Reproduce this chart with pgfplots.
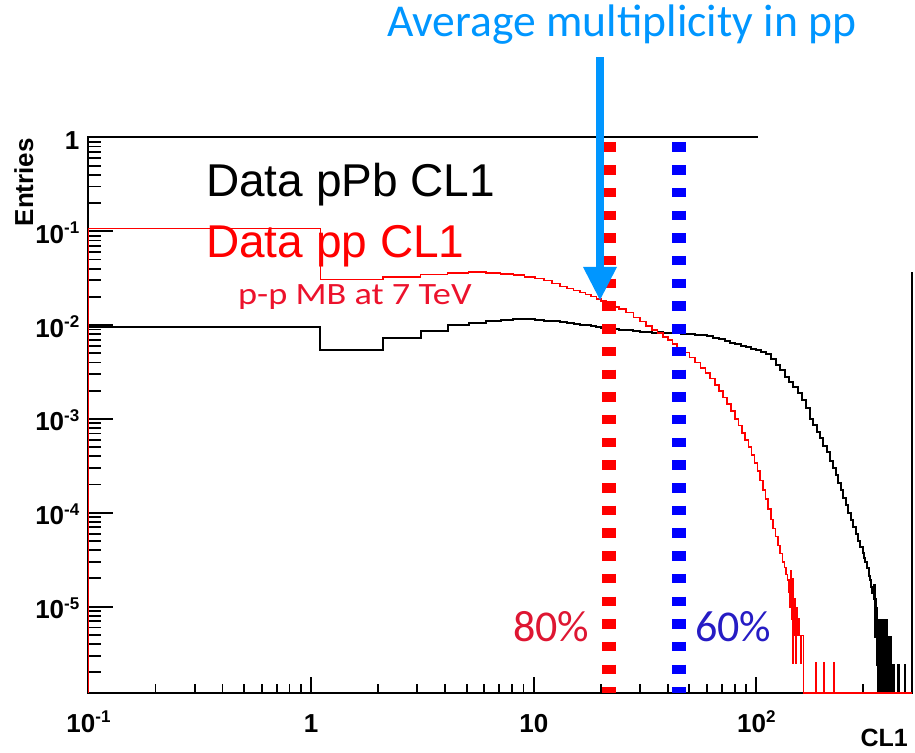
\documentclass[border=0pt]{standalone}
\usepackage{pgfplots}
\pgfplotsset{compat=1.18}
\usepackage{graphicx}
\usepackage{fontspec}
\setmainfont{Liberation Sans}
\newfontfamily\calib{Carlito}
\definecolor{arrowblue}{RGB}{0,150,255}
\definecolor{pctred}{RGB}{222,22,50}
\definecolor{pctblue}{RGB}{38,28,196}
\definecolor{ppred}{RGB}{236,18,44}
\newcommand{\tp}[1]{10\raisebox{9.5pt}{\fontsize{17}{17}\selectfont\bfseries #1}}

\pgfplotstableread{
x y
0.1 1.2e-6
0.1 0.00955
1.1 0.00543
2.1 0.00729
3.1 0.00865
4.1 0.0100
5.1 0.0105
6.1 0.0110
7.1 0.0113
8.1 0.0116
9.1 0.0116
10.1 0.0114
11.1 0.0112
12.1 0.0110
13.1 0.0108
14.1 0.0106
15.1 0.0104
16.1 0.0101
17.1 0.0100
18.1 0.0097
19.1 0.0096
20.1 0.0094
21.1 0.0093
22.1 0.0091
23.1 0.0091
24.1 0.0089
26 0.0088
28 0.0086
30 0.0085
32 0.0085
34 0.0083
36 0.0084
38 0.0082
40 0.0083
42 0.0082
44 0.0083
46 0.0081
48 0.0081
50 0.0080
53 0.0079
56 0.0078
60 0.0076
64 0.0073
68 0.0071
72 0.0068
76 0.0065
80 0.0063
85 0.0060
90 0.0058
95 0.0056
100 0.0054
105 0.0052
110 0.0049
116 0.0044
122 0.0038
128 0.0033
134 0.0028
140 0.0025
146 0.0022
153 0.0019
160 0.0016
167 0.0013
175 0.00100
180 0.00087
187 0.00073
194 0.00062
200 0.00052
207 0.00044
215 0.00036
221 0.00030
227 0.00025
233 0.00021
239 0.000175
245 0.000145
252 0.000120
258 0.000100
265 0.000084
272 0.000070
279 0.000060
286 0.000050
293 0.000043
300 0.000037
304 0.000033
309 0.000030
315 0.000026
320 0.000021
324 0.000019
328 0.000016
332 0.000014
336 0.0000120
338 0.0000168
340 0.0000096
341 0.0000100
342 0.0000048
343 0.0000072
344 0.0000120
345 0.0000048
346 0.0000096
347 0.0000024
348 0.0000072
349 0.0000048
350 0.0000072
351 0.0000024
352 0.0000048
353 1.2e-6
354 0.0000072
355 0.0000024
356 0.0000048
357 1.2e-6
358 0.0000024
359 0.0000072
360 1.2e-6
361 0.0000048
362 0.0000024
363 0.0000072
364 1.2e-6
365 0.0000024
366 0.0000048
367 1.2e-6
368 0.0000072
369 0.0000024
370 1.2e-6
371 0.0000048
372 1.2e-6
373 0.0000024
374 0.0000072
375 1.2e-6
376 0.0000024
377 0.0000048
378 1.2e-6
379 0.0000024
380 1.2e-6
381 0.0000072
382 0.0000024
383 1.2e-6
384 0.0000048
385 1.2e-6
386 0.0000024
387 0.0000072
388 1.2e-6
389 0.0000024
390 1.2e-6
391 0.0000048
392 1.2e-6
394 0.0000024
395 1.2e-6
397 0.0000024
398 1.2e-6
400 0.0000048
401 1.2e-6
404 0.0000024
405 1.2e-6
408 0.0000024
409 1.2e-6
412 0.0000024
413 1.2e-6
434 0.0000024
435 1.2e-6
463 0.0000024
464 1.2e-6
500 1.2e-6
}\pPbdata

\pgfplotstableread{
x y
0.1 1.2e-6
0.1 0.1076
1.1 0.0308
2.1 0.0328
3.1 0.0348
4.1 0.0362
5.1 0.0366
6.1 0.0360
7.1 0.0351
8.1 0.0340
9.1 0.0328
10.1 0.0315
11.1 0.0298
12.1 0.0278
13.1 0.0258
14.1 0.0245
15.1 0.0233
16.1 0.0222
17.1 0.0212
18.1 0.0202
19.1 0.0190
20.1 0.0180
21.1 0.0172
22.1 0.0164
23.1 0.0155
24.1 0.0148
26 0.0136
28 0.0121
30 0.0109
32 0.0098
34 0.0089
36 0.0082
38 0.0075
40 0.0069
42 0.0063
44 0.0058
47 0.0051
50 0.0045
53 0.0040
56 0.0035
59 0.0031
62 0.0027
65 0.0023
68 0.0020
71 0.00170
74 0.00145
77 0.00122
80 0.00100
83 0.00085
86 0.00071
89 0.00060
92 0.00050
95 0.00041
98 0.00034
101 0.00028
104 0.00022
107 0.000175
110 0.000140
113 0.000110
116 0.000085
119 0.000068
122 0.000056
125 0.000045
128 0.000037
131 0.000030
134 0.000026
136 0.000022
138 0.0000192
140 0.0000144
142 0.0000099
143 0.000024
144 0.0000074
145 0.0000025
146 0.0000196
147 0.0000052
148 0.000012
149 0.0000049
150 0.0000025
151 0.0000098
152 0.0000049
154 0.0000074
156 0.0000049
158 0.0000025
159 0.0000049
161 0.0000049
163 1.2e-6
184 2.5e-6
185 1.2e-6
200 2.5e-6
201 1.2e-6
222 2.5e-6
223 1.2e-6
500 1.2e-6
}\ppdata

\begin{document}
\begin{tikzpicture}
\useasboundingbox (0,0) rectangle (915pt,752pt);
\begin{axis}[
  at={(88.5pt,59pt)}, anchor=south west,
  scale only axis, width=823.5pt, height=555.5pt,
  xmode=log, ymode=log,
  xmin=0.1, xmax=500, ymin=1.2e-6, ymax=1,
  clip=false,
  axis line style={line width=2pt},
  tick pos=left, tick align=inside,
  major tick length=25pt, minor tick length=13pt,
  every tick/.style={black, line width=1.8pt},
  xtick style={/pgfplots/major tick length=16pt, /pgfplots/minor tick length=9pt},
  xtick={0.1,1,10,100},
  xticklabels={\tp{-1},1,10,\tp{2}},
  minor xtick={0.2,0.3,0.4,0.5,0.6,0.7,0.8,0.9,2,3,4,5,6,7,8,9,20,30,40,50,60,70,80,90,200,300,400},
  ytick={1e-5,1e-4,1e-3,1e-2,1e-1,1},
  yticklabels={\tp{-5},\tp{-4},\tp{-3},\tp{-2},\tp{-1},1},
  minor ytick={2e-6,3e-6,4e-6,5e-6,6e-6,7e-6,8e-6,9e-6,2e-5,3e-5,4e-5,5e-5,6e-5,7e-5,8e-5,9e-5,2e-4,3e-4,4e-4,5e-4,6e-4,7e-4,8e-4,9e-4,2e-3,3e-3,4e-3,5e-3,6e-3,7e-3,8e-3,9e-3,2e-2,3e-2,4e-2,5e-2,6e-2,7e-2,8e-2,9e-2,0.2,0.3,0.4,0.5,0.6,0.7,0.8,0.9},
  ticklabel style={font=\fontsize{26}{26}\selectfont\bfseries},
  xticklabel style={anchor=base, inner sep=0pt, yshift=-39pt},
  yticklabel style={anchor=base east, inner sep=0pt, xshift=-9pt, yshift=-12pt},
]
\addplot[const plot, black, line width=2pt] table[x=x,y=y] {\pPbdata};
\addplot[const plot, red, line width=1.6pt] table[x=x,y=y] {\ppdata};
\addplot[red, line width=14pt, dash pattern=on 9.5pt off 13.2pt, dash phase=17.7pt] coordinates {(21.8,1) (21.8,1.2e-6)};
\addplot[blue, line width=14pt, dash pattern=on 9.5pt off 13.2pt, dash phase=17.7pt] coordinates {(45.1,1) (45.1,1.2e-6)};
\end{axis}
\fill[white] (757.5pt,480pt) rectangle (916pt,753pt);
\node[anchor=base west, inner sep=0pt, font=\fontsize{46}{46}\selectfont] at (206pt,555pt) {Data pPb CL1};
\node[anchor=base west, inner sep=0pt, text=red, font=\fontsize{46}{46}\selectfont] at (206pt,494pt) {Data pp CL1};
\node[anchor=base west, inner sep=0pt, text=ppred] at (238pt,447pt) {\scalebox{1.17}[1]{\calib\fontsize{31}{31}\selectfont p-p MB at 7 TeV}};
\node[anchor=base west, inner sep=0pt, text=arrowblue, font=\calib\fontsize{45.6}{45.6}\selectfont] at (387pt,715pt) {Average multiplicity in pp};
\node[anchor=base west, inner sep=0pt, text=pctred, font=\calib\fontsize{44}{44}\selectfont] at (513pt,110pt) {80\%};
\node[anchor=base west, inner sep=0pt, text=pctblue, font=\calib\fontsize{44}{44}\selectfont] at (695pt,110pt) {60\%};
\node[rotate=90, anchor=base east, inner sep=0pt, font=\fontsize{26}{26}\selectfont\bfseries] at (33pt,614pt) {Entries};
\node[anchor=base east, inner sep=0pt, font=\fontsize{25}{25}\selectfont\bfseries] at (908pt,6pt) {CL1};
\fill[arrowblue] (596pt,695pt) rectangle (604pt,484pt);
\fill[arrowblue] (583pt,485pt) -- (617pt,485pt) -- (600pt,452pt) -- cycle;
\end{tikzpicture}
\end{document}
